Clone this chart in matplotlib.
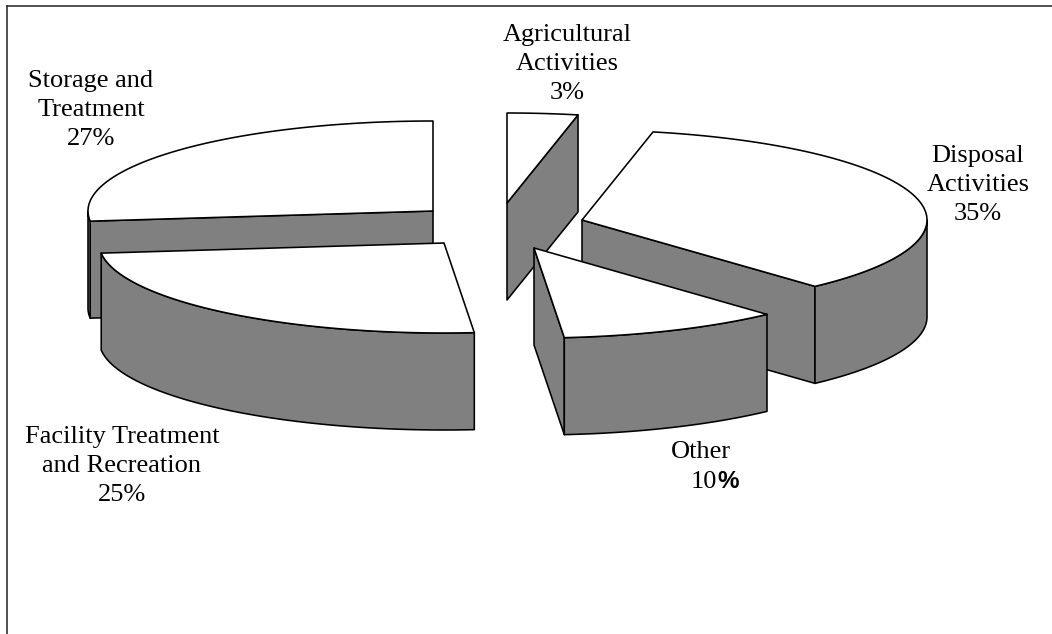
#!/usr/bin/env python3
# Exploded 3D-look pie chart, drawn by hand since matplotlib has no such pie
import numpy as np
import matplotlib
matplotlib.use("Agg")
import matplotlib.pyplot as plt
from matplotlib.patches import Polygon

# Data, in pie order going clockwise
categories = ["Disposal\nActivities", "Other", "Facility Treatment\nand Recreation",
              "Storage and\nTreatment", "Agricultural\nActivities"]
shares = [34.9, 10.4, 24.6, 26.8, 3.3]

# Layout in image pixels
START_ANGLE = 78.12
RX, RY = 345, 90
DEPTH = 97
apexes = [(582, 220), (534, 248), (444, 243), (433, 211), (507, 203)]
label_pos = [(978, 185), (701, 452), (122, 466), (91, 110), (567, 64)]
draw_order = [3, 2, 4, 0, 1]

GREY = "#808080"
LW = 1.15
FONT = 19

plt.rcParams["font.family"] = ["Liberation Serif", "DejaVu Serif"]
fig = plt.figure(figsize=(10.52, 6.34), dpi=100)
ax = fig.add_axes([0, 0, 1, 1])
ax.set_xlim(0, 1052)
ax.set_ylim(634, 0)
ax.axis("off")


def rim(apex, t0, t1, n=80):
    t = np.radians(np.linspace(t0, t1, n))
    return np.column_stack([apex[0] + RX * np.cos(t), apex[1] - RY * np.sin(t)])


def face(pts, color):
    ax.add_patch(Polygon(pts, closed=True, facecolor=color, edgecolor="black",
                         linewidth=LW, joinstyle="round"))


# Wedge angles going clockwise from the start angle
edges = START_ANGLE - np.cumsum([0] + shares) * 3.6

for i in draw_order:
    a0, a1 = edges[i], edges[i + 1]
    apex = apexes[i]
    down = np.array([0, DEPTH])

    # Cut faces, only those that turn toward the viewer
    for ang, visible in ((a0, np.cos(np.radians(a0)) < -0.05), (a1, np.cos(np.radians(a1)) > 0.05)):
        if visible:
            p = rim(apex, ang, ang, 1)[0]
            a = np.array(apex, dtype=float)
            face([a, p, p + down, a + down], GREY)

    # Outer wall, front half of the ellipse only
    lo, hi = max(a1, -180), min(a0, 0)
    if hi > lo:
        top = rim(apex, hi, lo)
        face(np.vstack([top, top[::-1] + down]), GREY)

    # Top surface
    face(np.vstack([[apex], rim(apex, a0, a1)]), "white")

# Labels
for i, (name, share) in enumerate(zip(categories, shares)):
    x, y = label_pos[i]
    if name == "Other":
        ax.text(x, y, name, ha="center", va="center", fontsize=FONT, color="black")
        ax.text(717, y + 30, f"{share:.0f}", ha="right", va="center", fontsize=FONT, color="black")
        ax.text(717, y + 30, "%", ha="left", va="center", fontsize=FONT - 1.5, color="black",
                fontweight="bold", family=["Liberation Sans", "DejaVu Sans"])
    else:
        ax.text(x, y, f"{name}\n{share:.0f}%", ha="center", va="center",
                fontsize=FONT, color="black", linespacing=1.42)

# Chart frame: only the top and left lines show in the crop
ax.plot([7, 7], [634, 6], color="#222222", lw=1.1, solid_capstyle="projecting")
ax.plot([7, 1052], [6, 6], color="#222222", lw=1.1, solid_capstyle="projecting")

fig.savefig("out.png", dpi=100)
